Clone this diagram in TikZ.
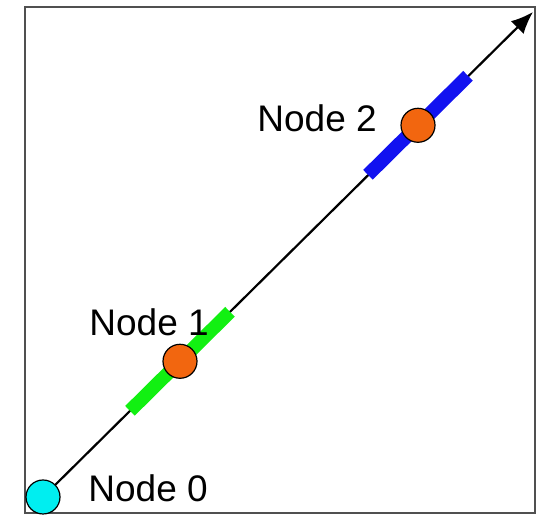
\documentclass[tikz,border=0pt]{standalone}
\usepackage{fontspec}
\setmainfont{Liberation Sans}
\usetikzlibrary{arrows.meta,calc,backgrounds}
\definecolor{ndcyan}{HTML}{00EEF0}
\definecolor{ndorange}{HTML}{F2660F}
\definecolor{bargreen}{HTML}{12F012}
\definecolor{barblue}{HTML}{1212F0}
\definecolor{framegrey}{HTML}{505050}
\tikzset{
  nd/.style={circle, draw=black, line width=0.6pt, minimum size=17pt, inner sep=0pt},
  nd src/.style={nd, fill=ndcyan},
  nd mid/.style={nd, fill=ndorange},
  nd lab/.style={font=\fontsize{18.5}{22}\selectfont, inner sep=0pt, anchor=west},
  nd bar/.style={line width=6.8pt, line cap=butt},
  nd arr/.style={-{Latex[length=11pt, width=9pt]}, line width=1.1pt},
}

\begin{document}
\begin{tikzpicture}[x=0.5pt, y=0.5pt]
  \useasboundingbox (0,0) rectangle (545,517);
  \draw[framegrey, line width=1pt] (25,4) rectangle (535,510);
  \coordinate (tip) at (533,505);
  \node[nd src] (n0) at (43,20) {};
  \node[nd mid] (n1) at (180,155.7) {};
  \node[nd mid] (n2) at (418,391.7) {};
  \begin{scope}[on background layer]
    \draw[nd arr] (n0.center) -- (tip);
    \foreach \nd/\cl in {n1/bargreen, n2/barblue}
      \draw[nd bar, \cl] ($(\nd)+(-50,-49.5)$) -- ($(\nd)+(50,49.5)$);
  \end{scope}
  \node[nd lab] (l0) at (88,29) {Node 0};
  \node[nd lab] (l1) at (89,195) {Node 1};
  \node[nd lab] (l2) at (257,399) {Node 2};
\end{tikzpicture}
\end{document}
